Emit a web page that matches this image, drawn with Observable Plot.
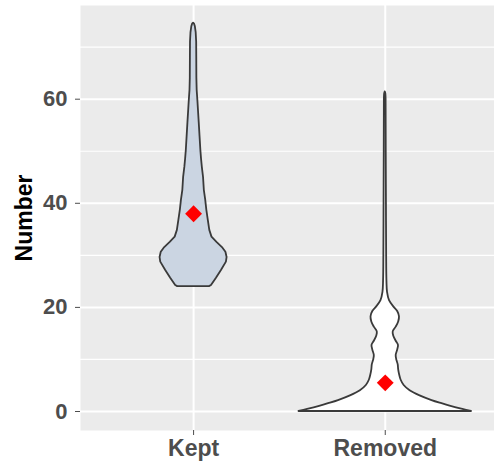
<!DOCTYPE html>
<html><head><meta charset="utf-8">
<script src="https://cdn.jsdelivr.net/npm/d3@7"></script>
<script src="https://cdn.jsdelivr.net/npm/@observablehq/plot@0.6"></script>
<style>body{margin:0;background:#fff}</style>
</head><body><div id="chart"></div>
<script>
const categories = ["Kept", "Removed"];
const means = [38.0, 5.5];
const yTicks = [0, 20, 40, 60];
const yMinorTicks = [10, 30, 50, 70];

const keptY = [24.0, 24.2, 25.6, 27.1, 28.7, 29.6, 30.6, 31.5, 32.5, 33.5, 34.8, 36.7, 38.7, 40.6, 42.5, 45.0, 46.9, 48.5, 50.2, 52.8, 55.4, 57.6, 59.8, 61.7, 64.0, 68.0, 71.0, 72.8, 73.9, 74.4, 74.6];
const keptDensity = [16, 18, 23, 28, 33, 33.7, 32.5, 29, 23.5, 18.5, 16.3, 14.8, 13.3, 12.2, 10.8, 10, 8.8, 8, 7.3, 6.5, 5.7, 5, 4.3, 3.6, 3.3, 3.2, 3.1, 2.6, 1.8, 1.0, 0];

const removedY = [0, 0.4, 1.0, 1.5, 2.1, 3.0, 4.0, 5.0, 6.0, 7.0, 8.0, 9.0, 10.0, 10.8, 11.8, 12.7, 13.5, 14.5, 15.3, 16.2, 17.2, 18.2, 19.2, 20.0, 21.3, 22.9, 25, 30, 40, 50, 58, 61, 61.4];
const removedDensity = [86.7, 78, 66, 57, 47, 35, 25, 19, 16, 14.5, 13.5, 13, 11.5, 11, 12.5, 13.3, 11, 8.5, 8, 11, 13.5, 14.3, 12.5, 9, 4.3, 2.3, 1.7, 1.4, 1.2, 1.0, 0.9, 0.6, 0];

const maxD = Math.max(...keptDensity, ...removedDensity);
function violin(ys, ds, pos) {
  return ys.map((y, i) => ({y, x1: pos - 0.45 * ds[i] / maxD, x2: pos + 0.45 * ds[i] / maxD}));
}
const kept = violin(keptY, keptDensity, 1);
const removed = violin(removedY, removedDensity, 2);
const meanData = categories.map((c, i) => ({x: i + 1, y: means[i]}));

const chart = Plot.plot({
  width: 494, height: 464,
  marginTop: 5, marginRight: 0, marginBottom: 34, marginLeft: 80,
  style: {fontFamily: "'Liberation Sans', Arial, sans-serif", background: "#fff"},
  x: {type: "linear", domain: [0.41, 2.57]},
  y: {domain: [-3.65, 78]},
  marks: [
    Plot.frame({fill: "#EBEBEB", stroke: "none"}),
    Plot.ruleY(yMinorTicks, {stroke: "#fff", strokeWidth: 1.2}),
    Plot.ruleY(yTicks, {stroke: "#fff", strokeWidth: 2}),
    Plot.ruleX([1, 2], {stroke: "#fff", strokeWidth: 2}),
    Plot.areaX(kept, {y: "y", x1: "x1", x2: "x2", fill: "#CBD5E2", stroke: "#3a3a3a", strokeWidth: 1.8, strokeLinejoin: "round", curve: "linear"}),
    Plot.areaX(removed, {y: "y", x1: "x1", x2: "x2", fill: "#fff", stroke: "#3a3a3a", strokeWidth: 1.8, strokeLinejoin: "round", curve: "catmull-rom"}),
    Plot.dot(meanData, {x: "x", y: "y", symbol: "diamond2", r: 7.6, fill: "#FF0000", stroke: "none"}),
    Plot.axisY({ticks: yTicks, tickSize: 5, tickPadding: 8, fontSize: 22, fontWeight: "bold", color: "#4D4D4D", label: null}),
    Plot.axisX({ticks: [1, 2], tickFormat: v => categories[v - 1], tickSize: 5, tickPadding: 4, fontSize: 23, fontWeight: "bold", color: "#4D4D4D", label: null}),
    Plot.text(["Number"], {text: d => d, frameAnchor: "left", dx: -56, rotate: -90, textAnchor: "middle", fontSize: 23, fontWeight: "bold", fill: "#000"})
  ]
});
document.getElementById("chart").append(chart);
</script>
</body></html>
